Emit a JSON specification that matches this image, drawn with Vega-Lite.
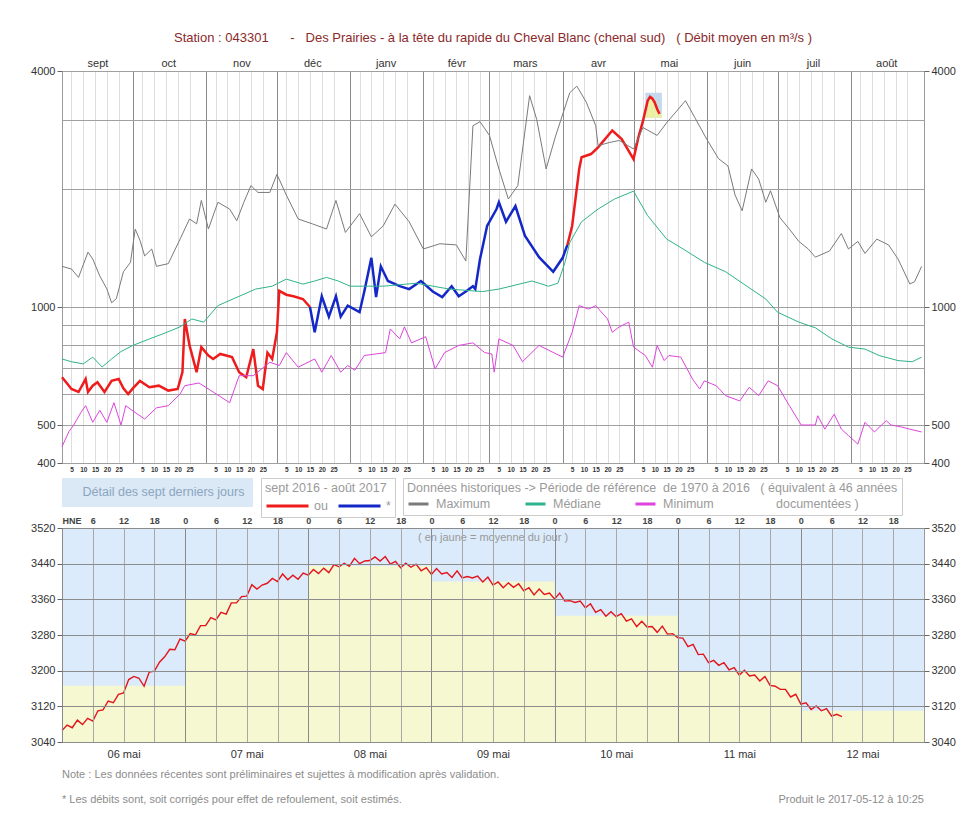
{
  "$schema": "https://vega.github.io/schema/vega-lite/v6.json",
  "background": "white",
  "padding": {"left": 30, "top": 31, "right": 8, "bottom": 5},
  "config": {
    "font": "Liberation Sans",
    "view": {"stroke": "#9a9a9a"},
    "axis": {"domain": false, "title": null, "labelFont": "Liberation Sans", "labelColor": "#333333", "labelFontSize": 11, "tickColor": "#666666", "tickSize": 5, "labelOverlap": false},
    "legend": {"labelFont": "Liberation Sans", "titleFont": "Liberation Sans", "titleFontWeight": "normal", "titleColor": "#9a9a9a", "labelColor": "#9a9a9a", "titleFontSize": 12.5, "labelFontSize": 12.5},
    "title": {"font": "Liberation Sans", "fontWeight": "normal"}
  },
  "resolve": {"legend": {"color": "independent", "fill": "independent", "stroke": "independent"}},
  "title": {"text": "Produit le 2017-05-12 à 10:25", "orient": "bottom", "anchor": "end", "fontSize": 11, "color": "#8c8c8c", "offset": -12, "dx": -32},
  "spacing": -3,
  "datasets": {
    "daily": [
      {"a": "2017-05-06", "b": "2017-05-07", "m": 3166},
      {"a": "2017-05-07", "b": "2017-05-08", "m": 3360},
      {"a": "2017-05-08", "b": "2017-05-09", "m": 3435},
      {"a": "2017-05-09", "b": "2017-05-10", "m": 3400},
      {"a": "2017-05-10", "b": "2017-05-11", "m": 3323},
      {"a": "2017-05-11", "b": "2017-05-12", "m": 3199},
      {"a": "2017-05-12", "b": "2017-05-13", "m": 3110}
    ],
    "hist": [
      {"d": "2016-09-01", "s": "Maximum", "v": 1270}, {"d": "2016-09-05", "s": "Maximum", "v": 1250}, {"d": "2016-09-08", "s": "Maximum", "v": 1190}, {"d": "2016-09-12", "s": "Maximum", "v": 1380}, {"d": "2016-09-14", "s": "Maximum", "v": 1326}, {"d": "2016-09-17", "s": "Maximum", "v": 1200}, {"d": "2016-09-20", "s": "Maximum", "v": 1112}, {"d": "2016-09-22", "s": "Maximum", "v": 1025}, {"d": "2016-09-24", "s": "Maximum", "v": 1050}, {"d": "2016-09-27", "s": "Maximum", "v": 1230}, {"d": "2016-09-30", "s": "Maximum", "v": 1300},
      {"d": "2016-10-02", "s": "Maximum", "v": 1580}, {"d": "2016-10-04", "s": "Maximum", "v": 1480}, {"d": "2016-10-06", "s": "Maximum", "v": 1350}, {"d": "2016-10-09", "s": "Maximum", "v": 1406}, {"d": "2016-10-11", "s": "Maximum", "v": 1270}, {"d": "2016-10-16", "s": "Maximum", "v": 1290}, {"d": "2016-10-21", "s": "Maximum", "v": 1490}, {"d": "2016-10-25", "s": "Maximum", "v": 1677}, {"d": "2016-10-28", "s": "Maximum", "v": 1630}, {"d": "2016-10-30", "s": "Maximum", "v": 1870},
      {"d": "2016-11-02", "s": "Maximum", "v": 1581}, {"d": "2016-11-06", "s": "Maximum", "v": 1850}, {"d": "2016-11-11", "s": "Maximum", "v": 1778}, {"d": "2016-11-14", "s": "Maximum", "v": 1660}, {"d": "2016-11-17", "s": "Maximum", "v": 1850}, {"d": "2016-11-20", "s": "Maximum", "v": 2040}, {"d": "2016-11-23", "s": "Maximum", "v": 1960}, {"d": "2016-11-28", "s": "Maximum", "v": 1960},
      {"d": "2016-12-01", "s": "Maximum", "v": 2180}, {"d": "2016-12-05", "s": "Maximum", "v": 1930}, {"d": "2016-12-10", "s": "Maximum", "v": 1677}, {"d": "2016-12-16", "s": "Maximum", "v": 1630}, {"d": "2016-12-22", "s": "Maximum", "v": 1581}, {"d": "2016-12-26", "s": "Maximum", "v": 1870}, {"d": "2016-12-30", "s": "Maximum", "v": 1550},
      {"d": "2017-01-05", "s": "Maximum", "v": 1730}, {"d": "2017-01-10", "s": "Maximum", "v": 1510}, {"d": "2017-01-15", "s": "Maximum", "v": 1610}, {"d": "2017-01-20", "s": "Maximum", "v": 1830}, {"d": "2017-01-26", "s": "Maximum", "v": 1650},
      {"d": "2017-02-01", "s": "Maximum", "v": 1406}, {"d": "2017-02-08", "s": "Maximum", "v": 1450}, {"d": "2017-02-15", "s": "Maximum", "v": 1440}, {"d": "2017-02-19", "s": "Maximum", "v": 1310}, {"d": "2017-02-22", "s": "Maximum", "v": 2900}, {"d": "2017-02-25", "s": "Maximum", "v": 2970},
      {"d": "2017-03-01", "s": "Maximum", "v": 2740}, {"d": "2017-03-05", "s": "Maximum", "v": 2250}, {"d": "2017-03-09", "s": "Maximum", "v": 1886}, {"d": "2017-03-13", "s": "Maximum", "v": 2040}, {"d": "2017-03-18", "s": "Maximum", "v": 3460}, {"d": "2017-03-21", "s": "Maximum", "v": 3010}, {"d": "2017-03-25", "s": "Maximum", "v": 2250}, {"d": "2017-03-29", "s": "Maximum", "v": 2730},
      {"d": "2017-04-04", "s": "Maximum", "v": 3520}, {"d": "2017-04-07", "s": "Maximum", "v": 3660}, {"d": "2017-04-11", "s": "Maximum", "v": 3330}, {"d": "2017-04-15", "s": "Maximum", "v": 2900}, {"d": "2017-04-16", "s": "Maximum", "v": 2580}, {"d": "2017-04-21", "s": "Maximum", "v": 2630}, {"d": "2017-04-25", "s": "Maximum", "v": 2660},
      {"d": "2017-05-01", "s": "Maximum", "v": 2530}, {"d": "2017-05-05", "s": "Maximum", "v": 2870}, {"d": "2017-05-11", "s": "Maximum", "v": 2740}, {"d": "2017-05-15", "s": "Maximum", "v": 2950}, {"d": "2017-05-23", "s": "Maximum", "v": 3360}, {"d": "2017-05-27", "s": "Maximum", "v": 3040},
      {"d": "2017-06-01", "s": "Maximum", "v": 2680}, {"d": "2017-06-06", "s": "Maximum", "v": 2390}, {"d": "2017-06-10", "s": "Maximum", "v": 2290}, {"d": "2017-06-13", "s": "Maximum", "v": 1930}, {"d": "2017-06-16", "s": "Maximum", "v": 1760}, {"d": "2017-06-20", "s": "Maximum", "v": 2250}, {"d": "2017-06-23", "s": "Maximum", "v": 2120}, {"d": "2017-06-26", "s": "Maximum", "v": 1850}, {"d": "2017-06-28", "s": "Maximum", "v": 1980},
      {"d": "2017-07-02", "s": "Maximum", "v": 1690}, {"d": "2017-07-06", "s": "Maximum", "v": 1580}, {"d": "2017-07-10", "s": "Maximum", "v": 1470}, {"d": "2017-07-14", "s": "Maximum", "v": 1406}, {"d": "2017-07-17", "s": "Maximum", "v": 1340}, {"d": "2017-07-23", "s": "Maximum", "v": 1390}, {"d": "2017-07-28", "s": "Maximum", "v": 1540}, {"d": "2017-07-31", "s": "Maximum", "v": 1406},
      {"d": "2017-08-04", "s": "Maximum", "v": 1470}, {"d": "2017-08-07", "s": "Maximum", "v": 1370}, {"d": "2017-08-12", "s": "Maximum", "v": 1490}, {"d": "2017-08-17", "s": "Maximum", "v": 1440}, {"d": "2017-08-21", "s": "Maximum", "v": 1326}, {"d": "2017-08-26", "s": "Maximum", "v": 1145}, {"d": "2017-08-28", "s": "Maximum", "v": 1160}, {"d": "2017-08-31", "s": "Maximum", "v": 1270},

      {"d": "2016-09-01", "s": "Médiane", "v": 737}, {"d": "2016-09-05", "s": "Médiane", "v": 725}, {"d": "2016-09-10", "s": "Médiane", "v": 716}, {"d": "2016-09-14", "s": "Médiane", "v": 745}, {"d": "2016-09-18", "s": "Médiane", "v": 703}, {"d": "2016-09-22", "s": "Médiane", "v": 737}, {"d": "2016-09-26", "s": "Médiane", "v": 770},
      {"d": "2016-10-01", "s": "Médiane", "v": 798}, {"d": "2016-10-08", "s": "Médiane", "v": 829}, {"d": "2016-10-15", "s": "Médiane", "v": 860}, {"d": "2016-10-21", "s": "Médiane", "v": 890}, {"d": "2016-10-26", "s": "Médiane", "v": 932}, {"d": "2016-10-31", "s": "Médiane", "v": 915},
      {"d": "2016-11-06", "s": "Médiane", "v": 1008}, {"d": "2016-11-15", "s": "Médiane", "v": 1065}, {"d": "2016-11-22", "s": "Médiane", "v": 1111}, {"d": "2016-11-29", "s": "Médiane", "v": 1130},
      {"d": "2016-12-05", "s": "Médiane", "v": 1178}, {"d": "2016-12-12", "s": "Médiane", "v": 1144}, {"d": "2016-12-17", "s": "Médiane", "v": 1165}, {"d": "2016-12-22", "s": "Médiane", "v": 1190}, {"d": "2016-12-27", "s": "Médiane", "v": 1165},
      {"d": "2017-01-01", "s": "Médiane", "v": 1130}, {"d": "2017-01-15", "s": "Médiane", "v": 1130}, {"d": "2017-01-29", "s": "Médiane", "v": 1150}, {"d": "2017-02-12", "s": "Médiane", "v": 1111}, {"d": "2017-02-26", "s": "Médiane", "v": 1095},
      {"d": "2017-03-05", "s": "Médiane", "v": 1111}, {"d": "2017-03-19", "s": "Médiane", "v": 1165}, {"d": "2017-03-26", "s": "Médiane", "v": 1130}, {"d": "2017-03-30", "s": "Médiane", "v": 1150},
      {"d": "2017-04-02", "s": "Médiane", "v": 1300}, {"d": "2017-04-04", "s": "Médiane", "v": 1460}, {"d": "2017-04-09", "s": "Médiane", "v": 1650}, {"d": "2017-04-16", "s": "Médiane", "v": 1778}, {"d": "2017-04-23", "s": "Médiane", "v": 1886},
      {"d": "2017-05-01", "s": "Médiane", "v": 1975}, {"d": "2017-05-07", "s": "Médiane", "v": 1710}, {"d": "2017-05-15", "s": "Médiane", "v": 1491}, {"d": "2017-05-22", "s": "Médiane", "v": 1406}, {"d": "2017-05-31", "s": "Médiane", "v": 1300},
      {"d": "2017-06-09", "s": "Médiane", "v": 1230}, {"d": "2017-06-18", "s": "Médiane", "v": 1130}, {"d": "2017-06-26", "s": "Médiane", "v": 1048},
      {"d": "2017-07-01", "s": "Médiane", "v": 970}, {"d": "2017-07-10", "s": "Médiane", "v": 915}, {"d": "2017-07-17", "s": "Médiane", "v": 885}, {"d": "2017-07-24", "s": "Médiane", "v": 829}, {"d": "2017-07-31", "s": "Médiane", "v": 790},
      {"d": "2017-08-07", "s": "Médiane", "v": 781}, {"d": "2017-08-13", "s": "Médiane", "v": 752}, {"d": "2017-08-21", "s": "Médiane", "v": 730}, {"d": "2017-08-27", "s": "Médiane", "v": 725}, {"d": "2017-08-31", "s": "Médiane", "v": 745},

      {"d": "2016-09-01", "s": "Minimum", "v": 440}, {"d": "2016-09-04", "s": "Minimum", "v": 482}, {"d": "2016-09-06", "s": "Minimum", "v": 500}, {"d": "2016-09-07", "s": "Minimum", "v": 513}, {"d": "2016-09-09", "s": "Minimum", "v": 538}, {"d": "2016-09-11", "s": "Minimum", "v": 560}, {"d": "2016-09-14", "s": "Minimum", "v": 508}, {"d": "2016-09-17", "s": "Minimum", "v": 545}, {"d": "2016-09-20", "s": "Minimum", "v": 508}, {"d": "2016-09-23", "s": "Minimum", "v": 570}, {"d": "2016-09-26", "s": "Minimum", "v": 500}, {"d": "2016-09-28", "s": "Minimum", "v": 560},
      {"d": "2016-10-02", "s": "Minimum", "v": 538}, {"d": "2016-10-06", "s": "Minimum", "v": 518}, {"d": "2016-10-11", "s": "Minimum", "v": 553}, {"d": "2016-10-16", "s": "Minimum", "v": 560}, {"d": "2016-10-21", "s": "Minimum", "v": 600}, {"d": "2016-10-23", "s": "Minimum", "v": 630}, {"d": "2016-10-29", "s": "Minimum", "v": 640},
      {"d": "2016-11-04", "s": "Minimum", "v": 607}, {"d": "2016-11-11", "s": "Minimum", "v": 570}, {"d": "2016-11-15", "s": "Minimum", "v": 668}, {"d": "2016-11-21", "s": "Minimum", "v": 668}, {"d": "2016-11-28", "s": "Minimum", "v": 723},
      {"d": "2016-12-02", "s": "Minimum", "v": 709}, {"d": "2016-12-05", "s": "Minimum", "v": 765}, {"d": "2016-12-10", "s": "Minimum", "v": 702}, {"d": "2016-12-17", "s": "Minimum", "v": 737}, {"d": "2016-12-20", "s": "Minimum", "v": 682}, {"d": "2016-12-24", "s": "Minimum", "v": 752}, {"d": "2016-12-28", "s": "Minimum", "v": 682}, {"d": "2016-12-31", "s": "Minimum", "v": 709},
      {"d": "2017-01-03", "s": "Minimum", "v": 690}, {"d": "2017-01-07", "s": "Minimum", "v": 752}, {"d": "2017-01-16", "s": "Minimum", "v": 765}, {"d": "2017-01-18", "s": "Minimum", "v": 879}, {"d": "2017-01-22", "s": "Minimum", "v": 829}, {"d": "2017-01-24", "s": "Minimum", "v": 890}, {"d": "2017-01-27", "s": "Minimum", "v": 810},
      {"d": "2017-02-02", "s": "Minimum", "v": 840}, {"d": "2017-02-06", "s": "Minimum", "v": 695}, {"d": "2017-02-10", "s": "Minimum", "v": 765}, {"d": "2017-02-16", "s": "Minimum", "v": 798}, {"d": "2017-02-22", "s": "Minimum", "v": 810}, {"d": "2017-02-27", "s": "Minimum", "v": 765},
      {"d": "2017-03-02", "s": "Minimum", "v": 759}, {"d": "2017-03-03", "s": "Minimum", "v": 682}, {"d": "2017-03-05", "s": "Minimum", "v": 829}, {"d": "2017-03-11", "s": "Minimum", "v": 798}, {"d": "2017-03-15", "s": "Minimum", "v": 725}, {"d": "2017-03-22", "s": "Minimum", "v": 798},
      {"d": "2017-04-01", "s": "Minimum", "v": 745}, {"d": "2017-04-05", "s": "Minimum", "v": 862}, {"d": "2017-04-08", "s": "Minimum", "v": 1008}, {"d": "2017-04-12", "s": "Minimum", "v": 988}, {"d": "2017-04-15", "s": "Minimum", "v": 1008}, {"d": "2017-04-20", "s": "Minimum", "v": 932}, {"d": "2017-04-22", "s": "Minimum", "v": 862}, {"d": "2017-04-25", "s": "Minimum", "v": 890}, {"d": "2017-04-29", "s": "Minimum", "v": 915},
      {"d": "2017-05-01", "s": "Minimum", "v": 790}, {"d": "2017-05-06", "s": "Minimum", "v": 752}, {"d": "2017-05-09", "s": "Minimum", "v": 702}, {"d": "2017-05-11", "s": "Minimum", "v": 798}, {"d": "2017-05-14", "s": "Minimum", "v": 730}, {"d": "2017-05-16", "s": "Minimum", "v": 752}, {"d": "2017-05-21", "s": "Minimum", "v": 745}, {"d": "2017-05-26", "s": "Minimum", "v": 655}, {"d": "2017-05-29", "s": "Minimum", "v": 618}, {"d": "2017-05-31", "s": "Minimum", "v": 648},
      {"d": "2017-06-05", "s": "Minimum", "v": 630}, {"d": "2017-06-09", "s": "Minimum", "v": 594}, {"d": "2017-06-15", "s": "Minimum", "v": 576}, {"d": "2017-06-19", "s": "Minimum", "v": 624}, {"d": "2017-06-23", "s": "Minimum", "v": 594}, {"d": "2017-06-27", "s": "Minimum", "v": 648},
      {"d": "2017-07-01", "s": "Minimum", "v": 630}, {"d": "2017-07-06", "s": "Minimum", "v": 560}, {"d": "2017-07-11", "s": "Minimum", "v": 500}, {"d": "2017-07-17", "s": "Minimum", "v": 500}, {"d": "2017-07-18", "s": "Minimum", "v": 528}, {"d": "2017-07-21", "s": "Minimum", "v": 488}, {"d": "2017-07-25", "s": "Minimum", "v": 533}, {"d": "2017-07-28", "s": "Minimum", "v": 488}, {"d": "2017-07-31", "s": "Minimum", "v": 470},
      {"d": "2017-08-04", "s": "Minimum", "v": 447}, {"d": "2017-08-07", "s": "Minimum", "v": 508}, {"d": "2017-08-11", "s": "Minimum", "v": 480}, {"d": "2017-08-16", "s": "Minimum", "v": 513}, {"d": "2017-08-18", "s": "Minimum", "v": 500}, {"d": "2017-08-22", "s": "Minimum", "v": 495}, {"d": "2017-08-26", "s": "Minimum", "v": 488}, {"d": "2017-08-31", "s": "Minimum", "v": 480}
    ],
    "cur": [
      {"d": "2016-09-01", "t": "ou", "g": 1, "v": 662}, {"d": "2016-09-03", "t": "ou", "g": 1, "v": 640}, {"d": "2016-09-05", "t": "ou", "g": 1, "v": 618}, {"d": "2016-09-08", "t": "ou", "g": 1, "v": 607}, {"d": "2016-09-11", "t": "ou", "g": 1, "v": 655}, {"d": "2016-09-12", "t": "ou", "g": 1, "v": 607}, {"d": "2016-09-14", "t": "ou", "g": 1, "v": 630}, {"d": "2016-09-16", "t": "ou", "g": 1, "v": 643}, {"d": "2016-09-19", "t": "ou", "g": 1, "v": 607}, {"d": "2016-09-22", "t": "ou", "g": 1, "v": 648}, {"d": "2016-09-25", "t": "ou", "g": 1, "v": 655}, {"d": "2016-09-27", "t": "ou", "g": 1, "v": 620}, {"d": "2016-09-29", "t": "ou", "g": 1, "v": 600},
      {"d": "2016-10-01", "t": "ou", "g": 1, "v": 620}, {"d": "2016-10-04", "t": "ou", "g": 1, "v": 648}, {"d": "2016-10-08", "t": "ou", "g": 1, "v": 624}, {"d": "2016-10-12", "t": "ou", "g": 1, "v": 630}, {"d": "2016-10-16", "t": "ou", "g": 1, "v": 612}, {"d": "2016-10-20", "t": "ou", "g": 1, "v": 618}, {"d": "2016-10-22", "t": "ou", "g": 1, "v": 682}, {"d": "2016-10-23", "t": "ou", "g": 1, "v": 932}, {"d": "2016-10-25", "t": "ou", "g": 1, "v": 798}, {"d": "2016-10-28", "t": "ou", "g": 1, "v": 682}, {"d": "2016-10-30", "t": "ou", "g": 1, "v": 790},
      {"d": "2016-11-02", "t": "ou", "g": 1, "v": 752}, {"d": "2016-11-04", "t": "ou", "g": 1, "v": 737}, {"d": "2016-11-07", "t": "ou", "g": 1, "v": 759}, {"d": "2016-11-12", "t": "ou", "g": 1, "v": 745}, {"d": "2016-11-15", "t": "ou", "g": 1, "v": 682}, {"d": "2016-11-18", "t": "ou", "g": 1, "v": 662}, {"d": "2016-11-21", "t": "ou", "g": 1, "v": 781}, {"d": "2016-11-23", "t": "ou", "g": 1, "v": 630}, {"d": "2016-11-25", "t": "ou", "g": 1, "v": 618}, {"d": "2016-11-27", "t": "ou", "g": 1, "v": 765}, {"d": "2016-11-29", "t": "ou", "g": 1, "v": 737},
      {"d": "2016-12-01", "t": "ou", "g": 1, "v": 862}, {"d": "2016-12-02", "t": "ou", "g": 1, "v": 1100}, {"d": "2016-12-05", "t": "ou", "g": 1, "v": 1075}, {"d": "2016-12-08", "t": "ou", "g": 1, "v": 1065}, {"d": "2016-12-12", "t": "ou", "g": 1, "v": 1048}, {"d": "2016-12-15", "t": "ou", "g": 1, "v": 1000},
      {"d": "2016-12-15", "t": "*", "g": 2, "v": 1000}, {"d": "2016-12-17", "t": "*", "g": 2, "v": 862}, {"d": "2016-12-20", "t": "*", "g": 2, "v": 1065}, {"d": "2016-12-23", "t": "*", "g": 2, "v": 945}, {"d": "2016-12-26", "t": "*", "g": 2, "v": 1065}, {"d": "2016-12-28", "t": "*", "g": 2, "v": 945}, {"d": "2016-12-31", "t": "*", "g": 2, "v": 1008},
      {"d": "2017-01-05", "t": "*", "g": 2, "v": 970}, {"d": "2017-01-07", "t": "*", "g": 2, "v": 1095}, {"d": "2017-01-10", "t": "*", "g": 2, "v": 1335}, {"d": "2017-01-12", "t": "*", "g": 2, "v": 1060}, {"d": "2017-01-14", "t": "*", "g": 2, "v": 1270}, {"d": "2017-01-17", "t": "*", "g": 2, "v": 1165}, {"d": "2017-01-22", "t": "*", "g": 2, "v": 1130}, {"d": "2017-01-26", "t": "*", "g": 2, "v": 1111}, {"d": "2017-01-31", "t": "*", "g": 2, "v": 1165},
      {"d": "2017-02-05", "t": "*", "g": 2, "v": 1095}, {"d": "2017-02-09", "t": "*", "g": 2, "v": 1060}, {"d": "2017-02-13", "t": "*", "g": 2, "v": 1130}, {"d": "2017-02-16", "t": "*", "g": 2, "v": 1065}, {"d": "2017-02-19", "t": "*", "g": 2, "v": 1095}, {"d": "2017-02-22", "t": "*", "g": 2, "v": 1130}, {"d": "2017-02-23", "t": "*", "g": 2, "v": 1111}, {"d": "2017-02-25", "t": "*", "g": 2, "v": 1325}, {"d": "2017-02-28", "t": "*", "g": 2, "v": 1610},
      {"d": "2017-03-04", "t": "*", "g": 2, "v": 1778}, {"d": "2017-03-05", "t": "*", "g": 2, "v": 1850}, {"d": "2017-03-08", "t": "*", "g": 2, "v": 1650}, {"d": "2017-03-12", "t": "*", "g": 2, "v": 1810}, {"d": "2017-03-16", "t": "*", "g": 2, "v": 1520}, {"d": "2017-03-22", "t": "*", "g": 2, "v": 1340}, {"d": "2017-03-28", "t": "*", "g": 2, "v": 1230}, {"d": "2017-04-01", "t": "*", "g": 2, "v": 1335}, {"d": "2017-04-03", "t": "*", "g": 2, "v": 1440},
      {"d": "2017-04-03", "t": "ou", "g": 3, "v": 1440}, {"d": "2017-04-05", "t": "ou", "g": 3, "v": 1610}, {"d": "2017-04-08", "t": "ou", "g": 3, "v": 2249}, {"d": "2017-04-09", "t": "ou", "g": 3, "v": 2410}, {"d": "2017-04-13", "t": "ou", "g": 3, "v": 2456}, {"d": "2017-04-16", "t": "ou", "g": 3, "v": 2555}, {"d": "2017-04-22", "t": "ou", "g": 3, "v": 2820}, {"d": "2017-04-26", "t": "ou", "g": 3, "v": 2682},
      {"d": "2017-05-01", "t": "ou", "g": 3, "v": 2385}, {"d": "2017-05-03", "t": "ou", "g": 3, "v": 2700}, {"d": "2017-05-05", "t": "ou", "g": 3, "v": 2980}, {"d": "2017-05-06", "t": "ou", "g": 3, "v": 3166}, {"d": "2017-05-07", "t": "ou", "g": 3, "v": 3360}, {"d": "2017-05-08", "t": "ou", "g": 3, "v": 3435}, {"d": "2017-05-09", "t": "ou", "g": 3, "v": 3400}, {"d": "2017-05-10", "t": "ou", "g": 3, "v": 3323}, {"d": "2017-05-11", "t": "ou", "g": 3, "v": 3199}, {"d": "2017-05-12", "t": "ou", "g": 3, "v": 3110}
    ],
    "hourly": [
      {"t": "2017-05-06T00:00Z", "v": 3066}, {"t": "2017-05-06T01:00Z", "v": 3078}, {"t": "2017-05-06T02:00Z", "v": 3072}, {"t": "2017-05-06T03:00Z", "v": 3089}, {"t": "2017-05-06T04:00Z", "v": 3079}, {"t": "2017-05-06T05:00Z", "v": 3093}, {"t": "2017-05-06T06:00Z", "v": 3087}, {"t": "2017-05-06T07:00Z", "v": 3110}, {"t": "2017-05-06T08:00Z", "v": 3112}, {"t": "2017-05-06T09:00Z", "v": 3132}, {"t": "2017-05-06T10:00Z", "v": 3128}, {"t": "2017-05-06T11:00Z", "v": 3147}, {"t": "2017-05-06T12:00Z", "v": 3150}, {"t": "2017-05-06T13:00Z", "v": 3180}, {"t": "2017-05-06T14:00Z", "v": 3187}, {"t": "2017-05-06T15:00Z", "v": 3183}, {"t": "2017-05-06T16:00Z", "v": 3165}, {"t": "2017-05-06T17:00Z", "v": 3197}, {"t": "2017-05-06T18:00Z", "v": 3199}, {"t": "2017-05-06T19:00Z", "v": 3219}, {"t": "2017-05-06T20:00Z", "v": 3231}, {"t": "2017-05-06T21:00Z", "v": 3248}, {"t": "2017-05-06T22:00Z", "v": 3247}, {"t": "2017-05-06T23:00Z", "v": 3271},
      {"t": "2017-05-07T00:00Z", "v": 3266}, {"t": "2017-05-07T01:00Z", "v": 3283}, {"t": "2017-05-07T02:00Z", "v": 3280}, {"t": "2017-05-07T03:00Z", "v": 3301}, {"t": "2017-05-07T04:00Z", "v": 3301}, {"t": "2017-05-07T05:00Z", "v": 3319}, {"t": "2017-05-07T06:00Z", "v": 3314}, {"t": "2017-05-07T07:00Z", "v": 3331}, {"t": "2017-05-07T08:00Z", "v": 3327}, {"t": "2017-05-07T09:00Z", "v": 3352}, {"t": "2017-05-07T10:00Z", "v": 3352}, {"t": "2017-05-07T11:00Z", "v": 3366}, {"t": "2017-05-07T12:00Z", "v": 3367}, {"t": "2017-05-07T13:00Z", "v": 3393}, {"t": "2017-05-07T14:00Z", "v": 3383}, {"t": "2017-05-07T15:00Z", "v": 3392}, {"t": "2017-05-07T16:00Z", "v": 3396}, {"t": "2017-05-07T17:00Z", "v": 3407}, {"t": "2017-05-07T18:00Z", "v": 3400}, {"t": "2017-05-07T19:00Z", "v": 3417}, {"t": "2017-05-07T20:00Z", "v": 3404}, {"t": "2017-05-07T21:00Z", "v": 3414}, {"t": "2017-05-07T22:00Z", "v": 3405}, {"t": "2017-05-07T23:00Z", "v": 3419},
      {"t": "2017-05-08T00:00Z", "v": 3414}, {"t": "2017-05-08T01:00Z", "v": 3427}, {"t": "2017-05-08T02:00Z", "v": 3418}, {"t": "2017-05-08T03:00Z", "v": 3430}, {"t": "2017-05-08T04:00Z", "v": 3420}, {"t": "2017-05-08T05:00Z", "v": 3438}, {"t": "2017-05-08T06:00Z", "v": 3433}, {"t": "2017-05-08T07:00Z", "v": 3441}, {"t": "2017-05-08T08:00Z", "v": 3434}, {"t": "2017-05-08T09:00Z", "v": 3452}, {"t": "2017-05-08T10:00Z", "v": 3440}, {"t": "2017-05-08T11:00Z", "v": 3446}, {"t": "2017-05-08T12:00Z", "v": 3447}, {"t": "2017-05-08T13:00Z", "v": 3455}, {"t": "2017-05-08T14:00Z", "v": 3446}, {"t": "2017-05-08T15:00Z", "v": 3456}, {"t": "2017-05-08T16:00Z", "v": 3439}, {"t": "2017-05-08T17:00Z", "v": 3445}, {"t": "2017-05-08T18:00Z", "v": 3431}, {"t": "2017-05-08T19:00Z", "v": 3441}, {"t": "2017-05-08T20:00Z", "v": 3432}, {"t": "2017-05-08T21:00Z", "v": 3439}, {"t": "2017-05-08T22:00Z", "v": 3424}, {"t": "2017-05-08T23:00Z", "v": 3431},
      {"t": "2017-05-09T00:00Z", "v": 3416}, {"t": "2017-05-09T01:00Z", "v": 3429}, {"t": "2017-05-09T02:00Z", "v": 3417}, {"t": "2017-05-09T03:00Z", "v": 3420}, {"t": "2017-05-09T04:00Z", "v": 3409}, {"t": "2017-05-09T05:00Z", "v": 3424}, {"t": "2017-05-09T06:00Z", "v": 3408}, {"t": "2017-05-09T07:00Z", "v": 3411}, {"t": "2017-05-09T08:00Z", "v": 3408}, {"t": "2017-05-09T09:00Z", "v": 3412}, {"t": "2017-05-09T10:00Z", "v": 3399}, {"t": "2017-05-09T11:00Z", "v": 3410}, {"t": "2017-05-09T12:00Z", "v": 3392}, {"t": "2017-05-09T13:00Z", "v": 3399}, {"t": "2017-05-09T14:00Z", "v": 3386}, {"t": "2017-05-09T15:00Z", "v": 3397}, {"t": "2017-05-09T16:00Z", "v": 3387}, {"t": "2017-05-09T17:00Z", "v": 3395}, {"t": "2017-05-09T18:00Z", "v": 3379}, {"t": "2017-05-09T19:00Z", "v": 3386}, {"t": "2017-05-09T20:00Z", "v": 3370}, {"t": "2017-05-09T21:00Z", "v": 3383}, {"t": "2017-05-09T22:00Z", "v": 3371}, {"t": "2017-05-09T23:00Z", "v": 3374},
      {"t": "2017-05-10T00:00Z", "v": 3361}, {"t": "2017-05-10T01:00Z", "v": 3374}, {"t": "2017-05-10T02:00Z", "v": 3356}, {"t": "2017-05-10T03:00Z", "v": 3357}, {"t": "2017-05-10T04:00Z", "v": 3353}, {"t": "2017-05-10T05:00Z", "v": 3356}, {"t": "2017-05-10T06:00Z", "v": 3341}, {"t": "2017-05-10T07:00Z", "v": 3350}, {"t": "2017-05-10T08:00Z", "v": 3331}, {"t": "2017-05-10T09:00Z", "v": 3337}, {"t": "2017-05-10T10:00Z", "v": 3322}, {"t": "2017-05-10T11:00Z", "v": 3332}, {"t": "2017-05-10T12:00Z", "v": 3321}, {"t": "2017-05-10T13:00Z", "v": 3328}, {"t": "2017-05-10T14:00Z", "v": 3311}, {"t": "2017-05-10T15:00Z", "v": 3316}, {"t": "2017-05-10T16:00Z", "v": 3299}, {"t": "2017-05-10T17:00Z", "v": 3311}, {"t": "2017-05-10T18:00Z", "v": 3298}, {"t": "2017-05-10T19:00Z", "v": 3299}, {"t": "2017-05-10T20:00Z", "v": 3286}, {"t": "2017-05-10T21:00Z", "v": 3300}, {"t": "2017-05-10T22:00Z", "v": 3282}, {"t": "2017-05-10T23:00Z", "v": 3283},
      {"t": "2017-05-11T00:00Z", "v": 3274}, {"t": "2017-05-11T01:00Z", "v": 3273}, {"t": "2017-05-11T02:00Z", "v": 3254}, {"t": "2017-05-11T03:00Z", "v": 3259}, {"t": "2017-05-11T04:00Z", "v": 3236}, {"t": "2017-05-11T05:00Z", "v": 3237}, {"t": "2017-05-11T06:00Z", "v": 3218}, {"t": "2017-05-11T07:00Z", "v": 3223}, {"t": "2017-05-11T08:00Z", "v": 3212}, {"t": "2017-05-11T09:00Z", "v": 3218}, {"t": "2017-05-11T10:00Z", "v": 3202}, {"t": "2017-05-11T11:00Z", "v": 3207}, {"t": "2017-05-11T12:00Z", "v": 3190}, {"t": "2017-05-11T13:00Z", "v": 3201}, {"t": "2017-05-11T14:00Z", "v": 3188}, {"t": "2017-05-11T15:00Z", "v": 3190}, {"t": "2017-05-11T16:00Z", "v": 3177}, {"t": "2017-05-11T17:00Z", "v": 3187}, {"t": "2017-05-11T18:00Z", "v": 3167}, {"t": "2017-05-11T19:00Z", "v": 3165}, {"t": "2017-05-11T20:00Z", "v": 3158}, {"t": "2017-05-11T21:00Z", "v": 3158}, {"t": "2017-05-11T22:00Z", "v": 3141}, {"t": "2017-05-11T23:00Z", "v": 3147},
      {"t": "2017-05-12T00:00Z", "v": 3125}, {"t": "2017-05-12T01:00Z", "v": 3128}, {"t": "2017-05-12T02:00Z", "v": 3113}, {"t": "2017-05-12T03:00Z", "v": 3121}, {"t": "2017-05-12T04:00Z", "v": 3110}, {"t": "2017-05-12T05:00Z", "v": 3115}, {"t": "2017-05-12T06:00Z", "v": 3098}, {"t": "2017-05-12T07:00Z", "v": 3102}, {"t": "2017-05-12T08:00Z", "v": 3097}
    ]
  },
  "vconcat": [
    {
      "width": 862,
      "height": 392,
      "title": {"text": "Station : 043301\u00a0\u00a0\u00a0\u00a0\u00a0\u00a0-\u00a0\u00a0\u00a0Des Prairies - à la tête du rapide du Cheval Blanc (chenal sud)\u00a0\u00a0\u00a0( Débit moyen en m³/s )", "color": "#8b2a2a", "fontSize": 13, "offset": 12},
      "resolve": {"axis": {"x": "independent", "y": "independent"}},
      "layer": [
        {
          "data": {"values": [{"a": "2017-05-06", "b": "2017-05-13", "lo": 3040, "hi": 3520, "k": "Détail des sept derniers jours"}]},
          "mark": {"type": "rect"},
          "encoding": {
            "x": {"field": "a", "type": "temporal", "scale": {"type": "utc", "domain": [{"year": 2016, "month": 9, "date": 1, "utc": true}, {"year": 2017, "month": 9, "date": 1, "utc": true}]},
              "axis": {"orient": "bottom", "values": {"expr": "[utc(2016,9,1),utc(2016,10,1),utc(2016,11,1),utc(2017,0,1),utc(2017,1,1),utc(2017,2,1),utc(2017,3,1),utc(2017,4,1),utc(2017,5,1),utc(2017,6,1),utc(2017,7,1)]"}, "grid": true, "gridColor": "#8c8c8c", "labels": false, "ticks": false}},
            "x2": {"field": "b"},
            "y": {"field": "lo", "type": "quantitative", "scale": {"type": "log", "domain": [400, 4000], "nice": false},
              "axis": {"orient": "left", "values": [400, 500, 600, 700, 800, 900, 1000, 2000, 3000, 4000], "format": "d", "labelExpr": "indexof([400,500,1000,4000], datum.value) >= 0 ? datum.label : ''", "grid": true, "gridColor": "#a0a0a0", "tickOpacity": {"condition": {"test": "indexof([400,500,1000,4000], datum.value) >= 0", "value": 1}, "value": 0}}},
            "y2": {"field": "hi"},
            "fill": {"field": "k", "type": "nominal", "scale": {"range": ["#c4d8ee"]},
              "legend": {"title": null, "orient": "bottom", "fillColor": "#dbe8f5", "padding": 8, "symbolOpacity": 0, "symbolSize": 1, "labelOffset": 0, "labelFontSize": 12.5, "labelColor": "#8aa6c1", "labelLimit": 300, "offset": 5}}
          }
        },
        {
          "data": {"name": "daily"},
          "mark": {"type": "rect", "color": "#eef2a0"},
          "encoding": {
            "x": {"field": "a", "type": "temporal", "axis": null},
            "x2": {"field": "b"},
            "y": {"field": "m", "type": "quantitative", "axis": null},
            "y2": {"datum": 3040}
          }
        },
        {
          "data": {"name": "cur"},
          "mark": {"type": "line", "strokeWidth": 2.5},
          "encoding": {
            "x": {"field": "d", "type": "temporal",
              "axis": {"orient": "bottom", "values": {"expr": "[utc(2016,8,5),utc(2016,8,10),utc(2016,8,15),utc(2016,8,20),utc(2016,8,25),utc(2016,9,5),utc(2016,9,10),utc(2016,9,15),utc(2016,9,20),utc(2016,9,25),utc(2016,10,5),utc(2016,10,10),utc(2016,10,15),utc(2016,10,20),utc(2016,10,25),utc(2016,11,5),utc(2016,11,10),utc(2016,11,15),utc(2016,11,20),utc(2016,11,25),utc(2017,0,5),utc(2017,0,10),utc(2017,0,15),utc(2017,0,20),utc(2017,0,25),utc(2017,1,5),utc(2017,1,10),utc(2017,1,15),utc(2017,1,20),utc(2017,1,25),utc(2017,2,5),utc(2017,2,10),utc(2017,2,15),utc(2017,2,20),utc(2017,2,25),utc(2017,3,5),utc(2017,3,10),utc(2017,3,15),utc(2017,3,20),utc(2017,3,25),utc(2017,4,5),utc(2017,4,10),utc(2017,4,15),utc(2017,4,20),utc(2017,4,25),utc(2017,5,5),utc(2017,5,10),utc(2017,5,15),utc(2017,5,20),utc(2017,5,25),utc(2017,6,5),utc(2017,6,10),utc(2017,6,15),utc(2017,6,20),utc(2017,6,25),utc(2017,7,5),utc(2017,7,10),utc(2017,7,15),utc(2017,7,20),utc(2017,7,25)]"}, "labelExpr": "'' + utcdate(datum.value)", "grid": true, "gridColor": "#dddddd", "ticks": false, "labelFontSize": 6.5, "labelFontWeight": "bold", "labelPadding": 3}},
            "y": {"field": "v", "type": "quantitative",
              "axis": {"orient": "right", "values": [400, 500, 600, 700, 800, 900, 1000, 2000, 3000, 4000], "format": "d", "labelExpr": "indexof([400,500,1000,4000], datum.value) >= 0 ? datum.label : ''", "grid": false, "tickOpacity": {"condition": {"test": "indexof([400,500,1000,4000], datum.value) >= 0", "value": 1}, "value": 0}}},
            "stroke": {"field": "t", "type": "nominal", "scale": {"domain": ["ou", "*"], "range": ["#ee1c1c", "#1428c8"]},
              "legend": {"title": "sept 2016 - août 2017", "orient": "bottom", "direction": "horizontal", "symbolType": "M-1,0H5", "symbolSize": 196, "symbolStrokeWidth": 3, "labelOffset": 32, "strokeColor": "#cccccc", "padding": 4, "titlePadding": 3, "columnPadding": 4, "offset": 0}},
            "detail": {"field": "g"}
          }
        },
        {
          "data": {"name": "hist"},
          "mark": {"type": "line", "strokeWidth": 1},
          "encoding": {
            "x": {"field": "d", "type": "temporal",
              "axis": {"orient": "top", "values": {"expr": "[utc(2016,8,16),utc(2016,9,16),utc(2016,10,16),utc(2016,11,16),utc(2017,0,16),utc(2017,1,15),utc(2017,2,16),utc(2017,3,16),utc(2017,4,16),utc(2017,5,16),utc(2017,6,16),utc(2017,7,16)]"}, "labelExpr": "['janv','févr','mars','avr','mai','juin','juil','août','sept','oct','nov','déc'][utcmonth(datum.value)]", "ticks": false, "grid": false, "labelPadding": 3}},
            "y": {"field": "v", "type": "quantitative", "axis": null},
            "color": {"field": "s", "type": "nominal", "scale": {"domain": ["Maximum", "Médiane", "Minimum", "documentées )"], "range": ["#7a7a7a", "#2fb38c", "#dd44dd", "transparent"]},
              "legend": {"title": "Données historiques -> Période de référence\u00a0\u00a0de 1970 à 2016\u00a0\u00a0\u00a0( équivalent à 46 années", "orient": "bottom", "direction": "horizontal", "symbolType": "M-1,0H3", "symbolSize": 100, "symbolStrokeWidth": 3, "labelOffset": 16, "strokeColor": "#cccccc", "padding": 4, "titlePadding": 3, "titleLimit": 700, "columnPadding": 28, "offset": 0}}
          }
        }
      ]
    },
    {
      "width": 862,
      "height": 214,
      "view": {"fill": "#dbebfb", "stroke": "#9a9a9a"},
      "title": {"text": ["Note : Les données récentes sont préliminaires et sujettes à modification après validation.", "* Les débits sont, soit corrigés pour effet de refoulement, soit estimés."], "orient": "bottom", "anchor": "start", "frame": "group", "fontSize": 11, "color": "#8c8c8c", "lineHeight": 25, "offset": 10},
      "resolve": {"axis": {"x": "independent", "y": "independent"}},
      "layer": [
        {
          "data": {"name": "daily"},
          "mark": {"type": "rect", "color": "#f5f8d0"},
          "encoding": {
            "x": {"field": "a", "type": "temporal", "scale": {"type": "utc", "domain": [{"year": 2017, "month": 5, "date": 6, "utc": true}, {"year": 2017, "month": 5, "date": 13, "utc": true}]},
              "axis": {"orient": "top", "values": {"expr": "sequence(utc(2017,4,6), utc(2017,4,13), 21600000)"}, "labelExpr": "utchours(datum.value) == 0 && utcdate(datum.value) == 6 ? 'HNE' : '' + utchours(datum.value)", "labelFlush": true, "labelFontSize": 9, "labelFontWeight": "bold", "labelColor": "#444444", "ticks": false, "grid": true, "gridColor": {"condition": {"test": "utchours(datum.value) == 0", "value": "#8a8a8a"}, "value": "#a8a8a8"}, "zindex": 1, "labelPadding": 3}},
            "x2": {"field": "b"},
            "y": {"field": "m", "type": "quantitative", "scale": {"domain": [3040, 3520], "nice": false, "zero": false},
              "axis": {"orient": "left", "values": [3040, 3120, 3200, 3280, 3360, 3440, 3520], "grid": true, "gridColor": "#8c8c8c", "zindex": 1, "format": "d"}},
            "y2": {"datum": 3040}
          }
        },
        {
          "data": {"name": "hourly"},
          "mark": {"type": "line", "color": "#e3141b", "strokeWidth": 1.4},
          "encoding": {
            "x": {"field": "t", "type": "temporal",
              "axis": {"orient": "bottom", "values": {"expr": "sequence(utc(2017,4,6,12), utc(2017,4,13), 86400000)"}, "labelExpr": "utcFormat(datum.value, '%d') + ' mai'", "ticks": false, "grid": false, "labelPadding": 6}},
            "y": {"field": "v", "type": "quantitative",
              "axis": {"orient": "right", "values": [3040, 3120, 3200, 3280, 3360, 3440, 3520], "grid": false, "format": "d"}}
          }
        },
        {
          "data": {"values": [{"note": "( en jaune = moyenne du jour )"}]},
          "mark": {"type": "text", "color": "#999999", "fontSize": 11, "baseline": "middle"},
          "encoding": {
            "x": {"datum": {"year": 2017, "month": 5, "date": 9, "hours": 12, "utc": true}, "type": "temporal", "axis": null},
            "y": {"datum": 3497, "type": "quantitative", "axis": null},
            "text": {"field": "note"}
          }
        }
      ]
    }
  ]
}
